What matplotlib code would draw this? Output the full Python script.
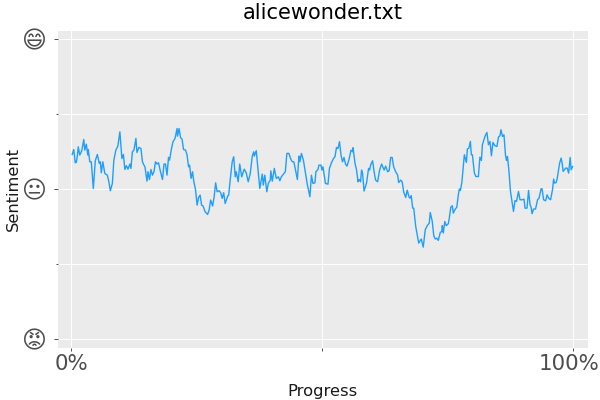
import matplotlib
matplotlib.use('Agg')
import matplotlib.pyplot as plt
from matplotlib.transforms import ScaledTranslation

# values: progress in percent, sentiment from -1 to 1
progress = [
    0.2, 0.5, 0.8, 1.0, 1.2, 1.4, 1.7, 2.1, 2.5, 2.7, 3.0, 3.3, 3.4, 3.7, 4.0, 4.4, 4.8, 5.2, 5.6, 5.8,
    6.0, 6.3, 6.7, 7.2, 7.5, 7.8, 8.2, 8.5, 8.9, 9.3, 9.7, 10.1, 10.4, 10.7, 11.0, 11.3, 11.7, 11.9, 12.2, 12.5,
    12.9, 13.1, 13.5, 13.9, 14.2, 14.5, 14.7, 15.1, 15.3, 15.6, 15.9, 16.2, 16.5, 16.8, 17.1, 17.4, 17.8, 18.2, 18.5, 18.8,
    19.1, 19.4, 19.6, 20.0, 20.3, 20.7, 21.1, 21.2, 21.5, 21.8, 22.1, 22.4, 22.8, 23.1, 23.4, 23.6, 23.9, 24.2, 24.4, 24.8,
    25.1, 25.4, 25.7, 26.0, 26.3, 26.7, 27.2, 27.5, 27.8, 28.2, 28.5, 28.8, 29.1, 29.5, 29.8, 30.1, 30.4, 30.7, 31.2, 31.4,
    31.7, 32.1, 32.4, 32.7, 32.9, 33.3, 33.6, 34.0, 34.5, 34.9, 35.3, 35.7, 36.1, 36.4, 36.5, 36.9, 37.3, 37.6, 38.1, 38.3,
    38.6, 39.0, 39.3, 39.7, 39.8, 40.1, 40.5, 40.9, 41.3, 41.6, 41.9, 42.7, 43.0, 43.4, 43.8, 44.1, 44.4, 45.1, 45.4, 45.6,
    45.9, 46.3, 46.7, 47.1, 47.6, 47.9, 48.2, 48.6, 48.8, 49.2, 49.4, 49.8, 50.0, 50.2, 50.7, 51.2, 51.5, 51.9, 52.3, 52.6,
    52.9, 53.2, 53.5, 53.8, 54.1, 54.4, 54.7, 55.0, 55.4, 55.8, 56.1, 56.2, 56.6, 56.9, 57.2, 57.4, 57.7, 57.9, 58.1, 58.4,
    58.9, 59.3, 59.5, 59.7, 60.1, 60.4, 60.7, 61.1, 61.5, 61.9, 62.4, 62.7, 63.1, 63.4, 63.7, 64.0, 64.3, 64.7, 65.1, 65.3,
    65.7, 66.0, 66.3, 66.7, 67.0, 67.4, 67.6, 67.8, 68.1, 68.3, 68.7, 69.3, 69.5, 69.8, 70.2, 70.6, 71.0, 71.4, 71.6, 72.0,
    72.3, 72.6, 72.9, 73.2, 73.6, 73.9, 74.0, 74.2, 74.5, 74.8, 75.2, 75.4, 75.7, 76.0, 76.2, 76.5, 76.9, 77.2, 77.4, 77.6,
    77.9, 78.2, 78.4, 78.8, 79.0, 79.3, 79.6, 79.8, 80.0, 80.4, 80.7, 81.2, 81.5, 81.8, 82.0, 82.5, 82.9, 83.2, 83.5, 83.8,
    84.1, 84.5, 84.9, 85.2, 85.5, 85.7, 86.0, 86.3, 86.6, 86.8, 87.0, 87.3, 87.6, 87.9, 88.2, 88.5, 88.8, 89.2, 89.5, 89.9,
    90.3, 90.5, 90.9, 91.2, 91.5, 91.7, 91.9, 92.2, 92.6, 93.0, 93.3, 93.7, 93.9, 94.2, 94.6, 94.9, 95.2, 95.6, 96.0, 96.2,
    96.4, 96.7, 96.9, 97.4, 97.7, 97.9, 98.1, 98.6, 98.9, 99.2, 99.5, 99.7, 100.0,
]
sentiment = [
    .231, .264, .176, .178, .216, .282, .227, .256, .331, .260, .300, .227, .264, .182, .182, .004, .189, .231, .171, .182,
    .109, .182, .104, .093, .049, -.011, .038, .193, .260, .287, .382, .204, .231, .131, .156, .133, .167, .138, .249, .260,
    .338, .244, .278, .271, .182, .160, .149, .053, .116, .064, .131, .093, .116, .182, .167, .176, .116, .064, .167, .167,
    .093, .211, .193, .271, .316, .338, .404, .353, .404, .344, .333, .264, .260, .227, .149, .160, .071, .116, .060, -.007,
    -.107, -.056, -.040, -.107, -.113, -.151, -.169, -.140, -.073, -.113, -.051, .042, -.018, -.011, -.024, -.062, -.024, -.096, -.047, -.040,
    .060, .182, .216, .082, .116, .049, .167, .082, .133, .109, .049, .104, .220, .249, .220, .256, .116, .004, .100, .027,
    .093, -.018, .038, .060, .122, .053, .138, .071, .082, .056, .082, .116, .238, .238, .198, .182, .182, .064, .220, .182,
    .238, .193, .109, .027, -.051, .093, .038, .042, .116, .131, .160, .160, .127, .149, .038, .033, .138, .176, .204, .216,
    .278, .271, .316, .227, .182, .211, .167, .153, .198, .260, .249, .276, .171, .127, .049, .064, .049, .127, .104, -.013,
    .042, .138, .127, .160, .189, .116, .060, .049, .127, .167, .127, .153, .116, .122, .211, .211, .149, .116, .093, .044,
    .060, .049, -.018, -.056, -.007, -.056, -.060, -.044, -.127, -.127, -.249, -.360, -.349, -.333, -.387, -.271, -.244, -.227, -.156, -.216,
    -.311, -.333, -.327, -.342, -.289, -.282, -.244, -.293, -.216, -.244, -.231, -.193, -.120, -.111, -.160, -.138, -.120, -.038, 0, -.009,
    .044, .151, .229, .178, .267, .273, .318, .229, .229, .107, .084, .084, .213, .191, .296, .351, .378, .296, .318, .222,
    .311, .289, .284, .347, .356, .396, .351, .362, .229, .191, .218, .118, -.016, -.082, -.149, -.076, -.082, -.016, -.071, -.071,
    -.067, -.127, -.127, -.009, -.104, -.120, -.164, -.133, -.133, -.071, -.060, .002, .002, -.071, -.078, -.038, -.060, -.071, 0, .067,
    .040, .044, .067, .173, .207, .173, .118, .140, .140, .107, .211, .129, .151,
]

x_ticks = [0, 50, 100]
x_labels = ['0%', '', '100%']
y_ticks = [-1, 0, 1]
y_labels = ['\U0001F621', '\U0001F610', '\U0001F604']
y_minor = [-0.5, 0.5]

fig = plt.figure(figsize=(6, 4), dpi=100)
ax = fig.add_axes([57.7 / 600, 1 - 347.6 / 400, 530 / 600, 317 / 400])
ax.set_facecolor('#EBEBEB')
for s in ax.spines.values():
    s.set_visible(False)

ax.plot(progress, sentiment, color='#1E9FFF', lw=1.0, zorder=3)

ax.set_xlim(-2.7, 103)
ax.set_ylim(-1.057, 1.057)

ax.set_xticks(x_ticks)
ax.set_xticklabels(x_labels, fontsize=15.4, color='#4D4D4D')
ax.set_yticks(y_ticks)
ax.set_yticklabels(y_labels, fontsize=17.2, color='#4D4D4D')
ax.set_yticks(y_minor, minor=True)
ax.grid(True, which='both', color='white', lw=0.7, zorder=1)
ax.set_axisbelow(True)
ax.tick_params(axis='x', length=2.5, width=0.7, color='#4D4D4D', pad=2)
ax.tick_params(axis='y', which='major', length=3, width=0.7, color='#4D4D4D', pad=4.5)
ax.tick_params(axis='y', which='minor', length=1.2, width=0.7, color='#4D4D4D')

# the 100% label sits a little left of its tick so it stays inside the figure
last = ax.get_xticklabels()[-1]
last.set_transform(last.get_transform() + ScaledTranslation(-4 / 100, 0, fig.dpi_scale_trans))

ax.set_title('alicewonder.txt', fontsize=15, pad=8.3)
ax.set_xlabel('Progress', fontsize=11.8, labelpad=7, color='#1A1A1A')
ax.set_ylabel('Sentiment', fontsize=11.7, labelpad=1.4, color='#1A1A1A')

fig.savefig('out.png', dpi=100)
